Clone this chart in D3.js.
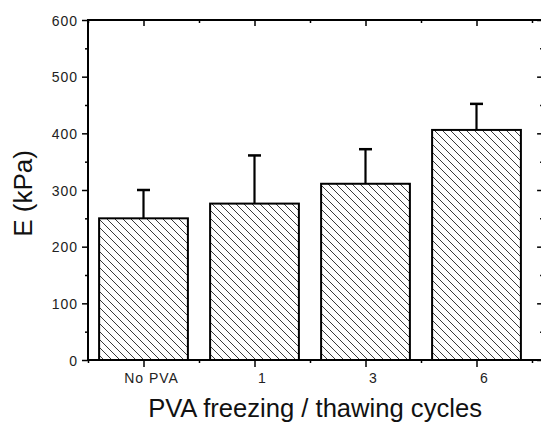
<!DOCTYPE html>
<html><head><meta charset="utf-8">
<script src="https://cdn.jsdelivr.net/npm/d3@7"></script>
<style>html,body{margin:0;padding:0;background:#fff;}svg{display:block;}</style>
</head><body>
<script>
const categories = ["No PVA", "1", "3", "6"];
const values = [250, 276, 311, 406];
const errors = [50, 85, 61, 46];
const yTicks = [0, 100, 200, 300, 400, 500, 600];
const yMinorTicks = [50, 150, 250, 350, 450, 550];
const xTitle = "PVA freezing / thawing cycles";
const yTitle = "E (kPa)";

(function () {
const W = 541, H = 423;
const svg = d3.select("body").append("svg").attr("width", W).attr("height", H);

const x = d3.scaleLinear().domain([-0.5, 3.6]).range([88, 543.1]);
const y = d3.scaleLinear().domain([0, 600]).range([360, 20]);
const bw = x(0.4) - x(-0.4);

const defs = svg.append("defs");
const pat = defs.append("pattern").attr("id", "hatch").attr("patternUnits", "userSpaceOnUse")
  .attr("width", 8).attr("height", 8);
pat.append("path").attr("d", "M0,0L8,8M-4,4L4,12M4,-4L12,4")
  .attr("stroke", "#3a3a3a").attr("stroke-width", 1).attr("fill", "none");

// bars
const g = svg.append("g");
g.selectAll("rect.bar").data(values).join("rect").attr("class", "bar")
  .attr("x", (d, i) => x(i) - bw / 2).attr("width", bw)
  .attr("y", d => y(d)).attr("height", d => y(0) - y(d))
  .attr("fill", "url(#hatch)").attr("stroke", "#000").attr("stroke-width", 2);

// error bars
g.selectAll("line.stem").data(values).join("line").attr("class", "stem")
  .attr("x1", (d, i) => x(i)).attr("x2", (d, i) => x(i))
  .attr("y1", d => y(d)).attr("y2", (d, i) => y(d + errors[i]))
  .attr("stroke", "#000").attr("stroke-width", 2.2);
g.selectAll("line.cap").data(values).join("line").attr("class", "cap")
  .attr("x1", (d, i) => x(i) - 6.5).attr("x2", (d, i) => x(i) + 6.5)
  .attr("y1", (d, i) => y(d + errors[i])).attr("y2", (d, i) => y(d + errors[i]))
  .attr("stroke", "#000").attr("stroke-width", 2.5);

// axes
const font = "'Liberation Sans', Arial, sans-serif";
const catIdx = categories.map((c, i) => i);
const halfIdx = [-0.5, 0.5, 1.5, 2.5, 3.5];

// left axis
const leftAx = svg.append("g").attr("transform", `translate(${x(-0.5)},0)`)
  .call(d3.axisLeft(y).tickValues(yTicks).tickSize(6).tickFormat(d3.format("d")));
leftAx.select(".domain").remove();
leftAx.selectAll(".tick line").attr("stroke", "#000").attr("stroke-width", 1.5);
leftAx.selectAll(".tick text").attr("font-family", font).attr("font-size", 14)
  .attr("letter-spacing", 1).attr("fill", "#222").attr("x", -10).attr("dy", "0.36em");
const leftMinor = svg.append("g").attr("transform", `translate(${x(-0.5)},0)`)
  .call(d3.axisLeft(y).tickValues(yMinorTicks).tickSize(3).tickFormat(""));
leftMinor.select(".domain").remove();
leftMinor.selectAll(".tick line").attr("stroke", "#000").attr("stroke-width", 1.5);

// right axis (inward ticks)
const rightAx = svg.append("g").attr("transform", `translate(${x(3.6)},0)`)
  .call(d3.axisLeft(y).tickValues(yTicks).tickFormat(""));
rightAx.select(".domain").remove();
rightAx.selectAll(".tick line").attr("x2", -6).attr("stroke", "#000").attr("stroke-width", 1.5);
const rightMinor = svg.append("g").attr("transform", `translate(${x(3.6)},0)`)
  .call(d3.axisLeft(y).tickValues(yMinorTicks).tickFormat(""));
rightMinor.select(".domain").remove();
rightMinor.selectAll(".tick line").attr("x2", -3).attr("stroke", "#000").attr("stroke-width", 1.5);

// bottom axis
const bottomAx = svg.append("g").attr("transform", `translate(0,${y(0)})`)
  .call(d3.axisBottom(x).tickValues(catIdx).tickSize(7).tickFormat(i => categories[i]));
bottomAx.select(".domain").remove();
bottomAx.selectAll(".tick line").attr("stroke", "#000").attr("stroke-width", 1.5);
bottomAx.selectAll(".tick text").attr("font-family", font).attr("font-size", 14)
  .attr("letter-spacing", 1).attr("fill", "#222").attr("x", 7.5).attr("y", 13).attr("dy", "0.71em");
const bottomMinor = svg.append("g").attr("transform", `translate(0,${y(0)})`)
  .call(d3.axisBottom(x).tickValues(halfIdx).tickSize(3).tickFormat(""));
bottomMinor.select(".domain").remove();
bottomMinor.selectAll(".tick line").attr("stroke", "#000").attr("stroke-width", 1.5);

// top axis (inward ticks)
const topAx = svg.append("g").attr("transform", `translate(0,${y(600)})`)
  .call(d3.axisBottom(x).tickValues(catIdx).tickSize(6).tickFormat(""));
topAx.select(".domain").remove();
topAx.selectAll(".tick line").attr("stroke", "#000").attr("stroke-width", 1.5);
const topMinor = svg.append("g").attr("transform", `translate(0,${y(600)})`)
  .call(d3.axisBottom(x).tickValues(halfIdx).tickSize(3).tickFormat(""));
topMinor.select(".domain").remove();
topMinor.selectAll(".tick line").attr("stroke", "#000").attr("stroke-width", 1.5);

// frame
svg.append("rect").attr("x", x(-0.5)).attr("y", y(600))
  .attr("width", x(3.6) - x(-0.5)).attr("height", y(0) - y(600))
  .attr("fill", "none").attr("stroke", "#000").attr("stroke-width", 2);

// titles
svg.append("text").attr("x", (x(-0.5) + x(3.6)) / 2 - 0.5).attr("y", 416.5)
  .attr("text-anchor", "middle").attr("font-family", font).attr("font-size", 25.6)
  .attr("fill", "#111").text(xTitle);
svg.append("text").attr("transform", `translate(31.5,${(150 + 237) / 2}) rotate(-90)`)
  .attr("text-anchor", "middle").attr("font-family", font).attr("font-size", 26)
  .attr("fill", "#111").text(yTitle);
})();
</script>
</body></html>
